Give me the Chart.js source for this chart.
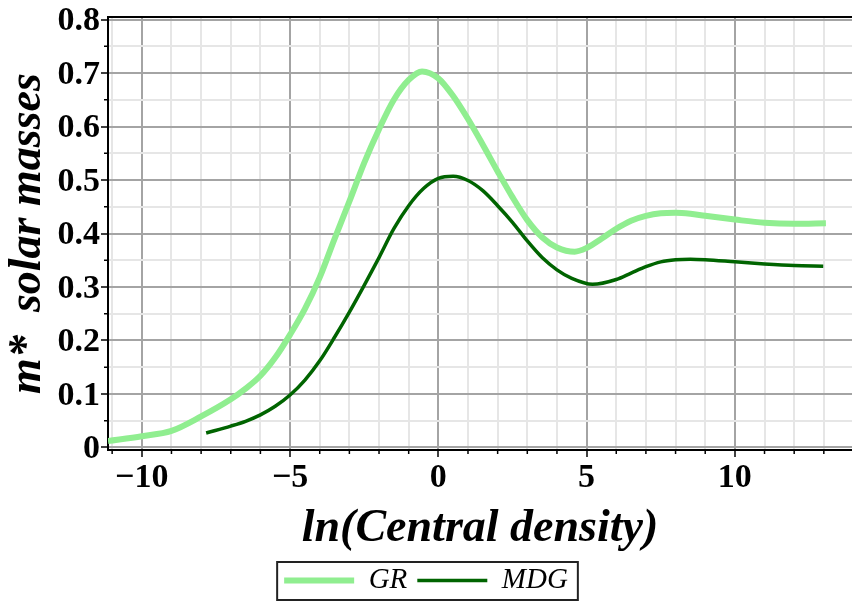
<!DOCTYPE html>
<html>
<head>
<meta charset="utf-8">
<title>m* vs ln(Central density)</title>
<script src="https://cdn.jsdelivr.net/npm/chart.js@4.4.1/dist/chart.umd.min.js"></script>
<style>
  html, body { margin: 0; padding: 0; background: #fff; }
  canvas { display: block; }
</style>
</head>
<body>
<canvas id="massChart" width="852" height="605"></canvas>
<script>
// GR curve (light green)
const grX = [-11.14, -10, -9, -8, -7, -6.5, -6, -5.5, -5, -4.5, -4, -3.5, -3, -2.5, -2, -1.5, -1, -0.55, 0, 0.5, 1, 1.5, 2, 2.5, 3, 3.5, 4, 4.6, 5, 5.5, 6, 6.5, 7, 7.5, 8, 8.5, 9, 10, 11, 12, 13.07];
const grY = [0.012, 0.021, 0.031, 0.058, 0.09, 0.11, 0.134, 0.168, 0.211, 0.259, 0.318, 0.39, 0.46, 0.532, 0.595, 0.65, 0.687, 0.703, 0.69, 0.657, 0.614, 0.566, 0.516, 0.468, 0.425, 0.393, 0.374, 0.366, 0.373, 0.39, 0.409, 0.424, 0.433, 0.438, 0.439, 0.437, 0.433, 0.426, 0.42, 0.418, 0.419];

// MDG curve (dark green)
const mdgX = [-7.83, -7, -6.5, -6, -5.5, -5, -4.5, -4, -3.5, -3, -2.5, -2, -1.5, -1, -0.5, 0, 0.5, 1, 1.5, 2, 2.5, 3, 3.5, 4, 4.5, 5.2, 6, 6.5, 7, 7.5, 8, 8.5, 9, 10, 11, 12, 12.98];
const mdgY = [0.027, 0.04, 0.049, 0.061, 0.077, 0.098, 0.126, 0.162, 0.206, 0.253, 0.303, 0.355, 0.409, 0.452, 0.484, 0.503, 0.507, 0.499, 0.48, 0.452, 0.421, 0.386, 0.355, 0.332, 0.316, 0.305, 0.314, 0.326, 0.338, 0.347, 0.351, 0.352, 0.351, 0.347, 0.343, 0.34, 0.339];

// Tick labels
const xTickValues = [-10, -5, 0, 5, 10];
const xTickLabels = ['\u221210', '\u22125', '0', '5', '10'];
const yTickLabels = ['0', '0.1', '0.2', '0.3', '0.4', '0.5', '0.6', '0.7', '0.8'];

const serif = "'Liberation Serif', 'Times New Roman', serif";
const majorGrid = '#a4a4a4';
const minorGrid = '#e6e6e6';

function isMajorX(v) { return Math.abs(v % 5) < 1e-9; }
function isMajorY(v) { return Math.abs(v * 10 - Math.round(v * 10)) < 1e-6; }

function toPoints(xs, ys) {
    return xs.map((x, i) => ({ x: x, y: ys[i] }));
}

// Top frame line + short minor tick marks
const framePlugin = {
    id: 'frame',
    afterDraw(chart) {
        const { ctx, chartArea } = chart;
        const xs = chart.scales.x;
        const ys = chart.scales.y;
        ctx.save();
        ctx.strokeStyle = '#000';
        ctx.lineWidth = 2;
        ctx.beginPath();
        ctx.moveTo(chartArea.left, chartArea.top);
        ctx.lineTo(chartArea.right, chartArea.top);
        ctx.stroke();

        ctx.lineWidth = 1.5;
        ctx.beginPath();
        xs.ticks.forEach(t => {
            if (isMajorX(t.value)) return;
            const px = xs.getPixelForValue(t.value);
            ctx.moveTo(px, chartArea.bottom);
            ctx.lineTo(px, chartArea.bottom + 4);
        });
        ys.ticks.forEach(t => {
            if (isMajorY(t.value)) return;
            const py = ys.getPixelForValue(t.value);
            ctx.moveTo(chartArea.left - 4, py);
            ctx.lineTo(chartArea.left, py);
        });
        ctx.stroke();
        ctx.restore();
    }
};

// Box round the legend
const legendBoxPlugin = {
    id: 'legendBox',
    afterDraw(chart) {
        const boxes = chart.legend && chart.legend.legendHitBoxes;
        if (!boxes || !boxes.length) return;
        const first = boxes[0];
        const last = boxes[boxes.length - 1];
        const ctx = chart.ctx;
        ctx.save();
        ctx.strokeStyle = '#222';
        ctx.lineWidth = 2;
        const left = first.left - 7;
        const right = last.left + last.width + 10;
        const top = first.top - 4;
        const bottom = first.top + first.height + 5;
        ctx.strokeRect(left, top, right - left, bottom - top);
        ctx.restore();
    }
};

new Chart(document.getElementById('massChart'), {
    type: 'line',
    data: {
        datasets: [
            {
                label: 'GR',
                data: toPoints(grX, grY),
                borderColor: '#90ee90',
                backgroundColor: '#90ee90',
                borderWidth: 6,
                pointRadius: 0,
                cubicInterpolationMode: 'monotone'
            },
            {
                label: 'MDG',
                data: toPoints(mdgX, mdgY),
                borderColor: '#006400',
                backgroundColor: '#006400',
                borderWidth: 3.5,
                pointRadius: 0,
                cubicInterpolationMode: 'monotone'
            }
        ]
    },
    options: {
        responsive: false,
        animation: false,
        layout: { padding: { top: 17, left: 0, right: 0, bottom: 0 } },
        plugins: {
            tooltip: { enabled: false },
            legend: {
                position: 'bottom',
                labels: {
                    usePointStyle: true,
                    pointStyle: 'line',
                    pointStyleWidth: 70,
                    padding: 10,
                    color: '#000',
                    font: { family: serif, size: 29, style: 'italic' }
                }
            }
        },
        scales: {
            x: {
                type: 'linear',
                min: -11.14,
                max: 13.95,
                afterFit(scale) {
                    scale.height = 106;
                    scale.paddingLeft = 0;
                    scale.paddingRight = 0;
                },
                ticks: {
                    stepSize: 1,
                    includeBounds: false,
                    autoSkip: false,
                    maxRotation: 0,
                    padding: 1,
                    color: '#000',
                    font: { family: serif, size: 34, weight: 'bold' },
                    callback(v) {
                        const i = xTickValues.indexOf(v);
                        return i >= 0 ? xTickLabels[i] : '';
                    }
                },
                grid: {
                    color: c => isMajorX(c.tick.value) ? majorGrid : minorGrid,
                    lineWidth: 2,
                    tickLength: 7,
                    tickWidth: 1.5,
                    tickColor: c => isMajorX(c.tick.value) ? '#000' : 'rgba(0,0,0,0)'
                },
                border: { color: '#000', width: 2 },
                title: {
                    display: true,
                    text: 'ln(Central density)',
                    color: '#000',
                    padding: { top: 0, bottom: 4 },
                    font: { family: serif, size: 46, weight: 'bold', style: 'italic', lineHeight: 1 }
                }
            },
            y: {
                min: -0.0047,
                max: 0.8047,
                afterFit(scale) {
                    scale.width = 108;
                    scale.paddingTop = 0;
                    scale.paddingBottom = 0;
                },
                ticks: {
                    stepSize: 0.05,
                    includeBounds: false,
                    autoSkip: false,
                    padding: 1,
                    labelOffset: 2,
                    color: '#000',
                    font: { family: serif, size: 34, weight: 'bold' },
                    callback(v) {
                        return isMajorY(v) ? yTickLabels[Math.round(v * 10)] : '';
                    }
                },
                grid: {
                    color: c => isMajorY(c.tick.value) ? majorGrid : minorGrid,
                    lineWidth: 2,
                    tickLength: 7,
                    tickWidth: 1.5,
                    tickColor: c => isMajorY(c.tick.value) ? '#000' : 'rgba(0,0,0,0)'
                },
                border: { color: '#000', width: 2 },
                title: {
                    display: true,
                    text: 'm*  solar masses',
                    color: '#000',
                    padding: { top: 5, bottom: 0 },
                    font: { family: serif, size: 46, weight: 'bold', style: 'italic', lineHeight: 1 }
                }
            }
        }
    },
    plugins: [framePlugin, legendBoxPlugin]
});
</script>
</body>
</html>
